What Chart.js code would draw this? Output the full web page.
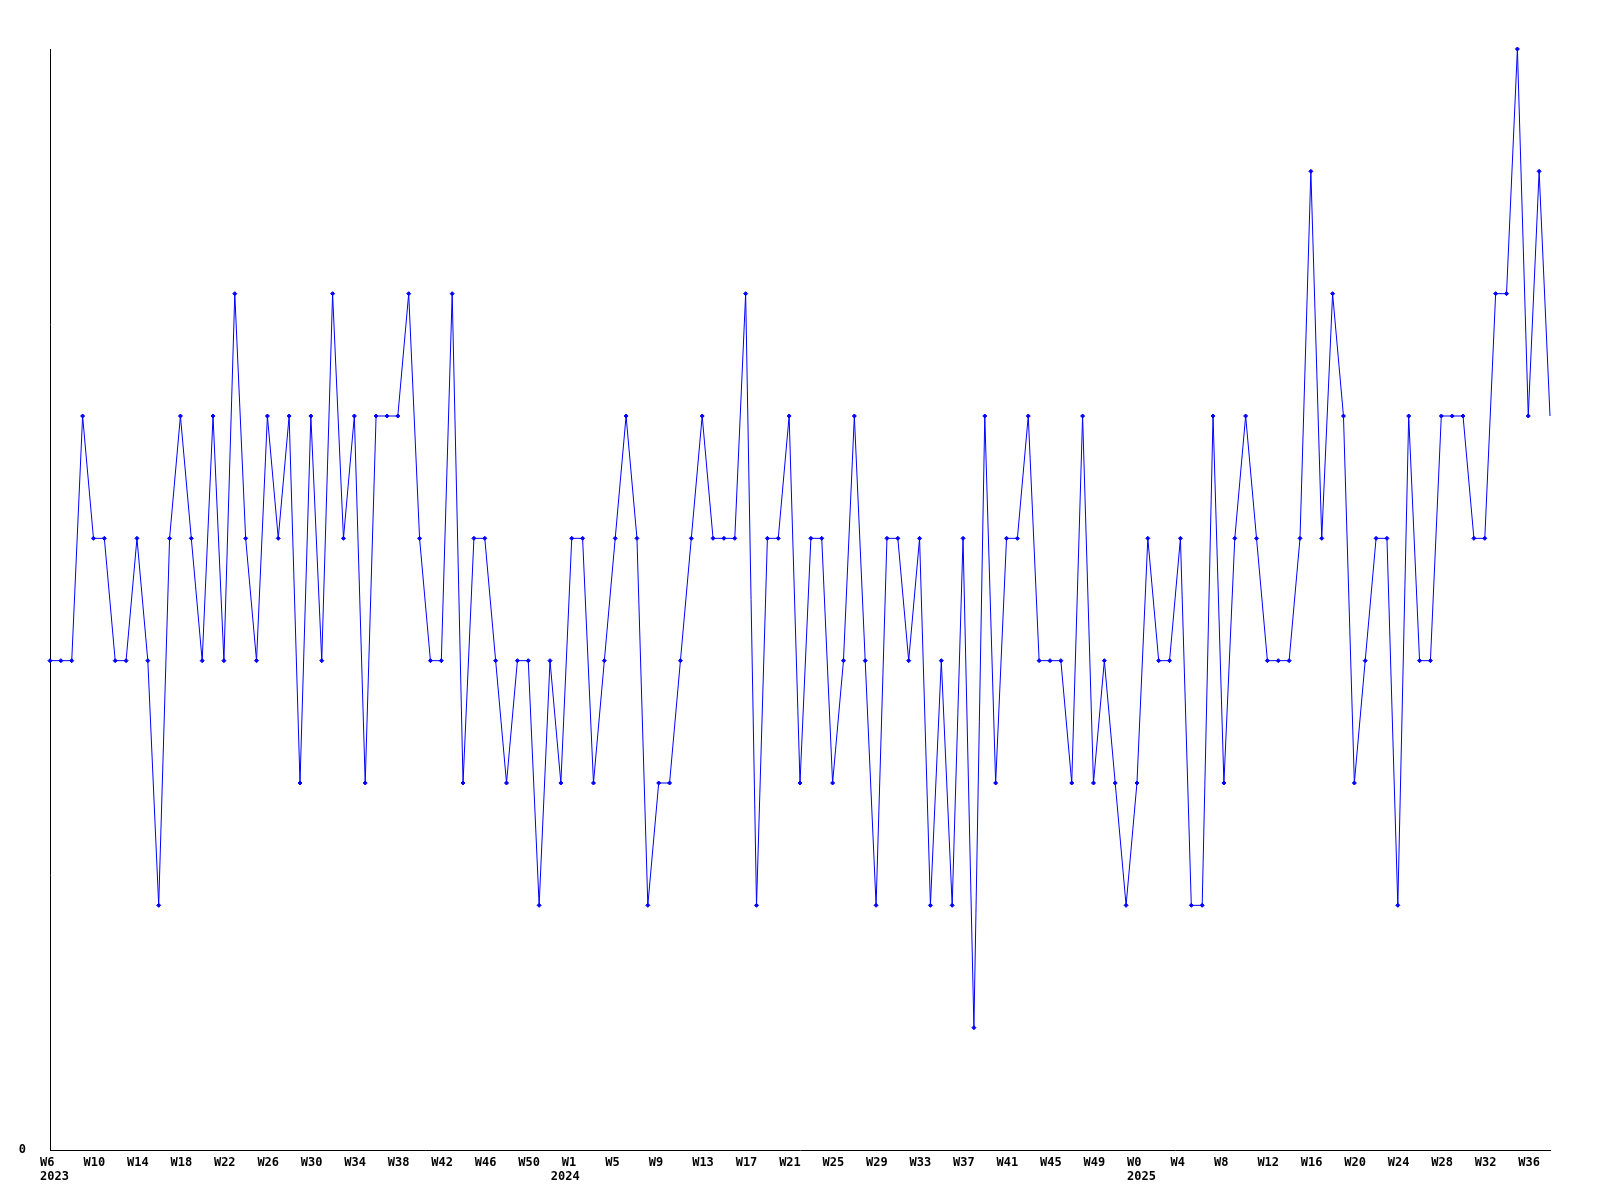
<!DOCTYPE html>
<html>
<head>
<meta charset="UTF-8">
<title>weekly count</title>
<script src="https://cdn.jsdelivr.net/npm/chart.js@4.4.1/dist/chart.umd.min.js"></script>
<style>
  body { margin: 0; background: #fff; }
  canvas { display: block; }
</style>
</head>
<body>
<canvas id="chart1" width="1600" height="1200"></canvas>
<script>
// one value per week, starting W6 2023
var counts = [
  4,4,4,6,5,5,4,4,5,4,
  2,5,6,5,4,6,4,7,5,4,
  6,5,6,3,6,4,7,5,6,3,
  6,6,6,7,5,4,4,7,3,5,
  5,4,3,4,4,2,4,3,5,5,
  3,4,5,6,5,2,3,3,4,5,
  6,5,5,5,7,2,5,5,6,3,
  5,5,3,4,6,4,2,5,5,4,
  5,2,4,2,5,1,6,3,5,5,
  6,4,4,4,3,6,3,4,3,2,
  3,5,4,4,5,2,2,6,3,5,
  6,5,4,4,4,5,8,5,7,6,
  3,4,5,5,2,6,4,4,6,6,
  6,5,5,7,7,9,6,8,6
];

// a week tick every 4 points
var tickStep = 4;
var tickWeeks = [
  'W6','W10','W14','W18','W22','W26','W30','W34','W38','W42','W46','W50',
  'W1','W5','W9','W13','W17','W21','W25','W29','W33','W37','W41','W45','W49',
  'W0','W4','W8','W12','W16','W20','W24','W28','W32','W36'
];
// year labels, second line, at the point where each year starts
var years = ['2023', '2024', '2025'];
var yearAt = [0, 47, 100];

var points = counts.map(function (v, i) { return {x: i, y: v}; });
var last = counts.length - 1;
var monoFont = {family: "'DejaVu Sans Mono', 'Liberation Mono', monospace", size: 12, weight: 'bold', lineHeight: 1.17};

// label text for every tick value on the x axis
var xLabels = {};
tickWeeks.forEach(function (w, k) { xLabels[k * tickStep] = [w]; });
years.forEach(function (y, k) {
  var at = yearAt[k];
  xLabels[at] = [xLabels[at] ? xLabels[at][0] : '', y];
});
var xTicks = Object.keys(xLabels).map(Number).sort(function (a, b) { return a - b; });

var ctx1 = document.getElementById("chart1");
var chart1 = new Chart(ctx1, {
  type: 'line',
  data: {
    datasets: [{
      data: points,
      borderColor: '#0000ff',
      borderWidth: 1,
      backgroundColor: '#0000ff',
      pointStyle: 'rectRot',
      pointRadius: function (c) { return c.dataIndex === last ? 0 : 2; },
      pointBorderWidth: 1,
      pointBorderColor: '#0000ff',
      pointBackgroundColor: '#0000ff',
      tension: 0,
      fill: false,
      clip: false
    }]
  },
  options: {
    responsive: false,
    animation: false,
    layout: { padding: { top: 49, right: 50, left: 0, bottom: 0 } },
    plugins: { legend: { display: false }, tooltip: { enabled: false } },
    scales: {
      x: {
        type: 'linear',
        min: 0,
        max: last,
        grid: { display: false, drawTicks: false },
        border: { display: true, color: '#000', width: 1 },
        afterBuildTicks: function (scale) {
          scale.ticks = xTicks.map(function (v) { return {value: v}; });
        },
        afterFit: function (scale) { scale.height = 50; },
        ticks: {
          autoSkip: false,
          maxRotation: 0,
          align: 'start',
          labelOffset: -10,
          padding: 6,
          color: '#000',
          font: monoFont,
          callback: function (v) {
            var l = xLabels[Math.round(v)];
            return l.length > 1 ? l : l[0];
          }
        }
      },
      y: {
        min: 0,
        max: 9,
        grid: { display: false, drawTicks: false },
        border: { display: true, color: '#000', width: 1 },
        afterBuildTicks: function (scale) { scale.ticks = [{value: 0}]; },
        afterFit: function (scale) { scale.width = 50; },
        ticks: {
          padding: 24,
          color: '#000',
          font: monoFont,
          callback: function (v) { return String(v); }
        }
      }
    }
  }
});
</script>
</body>
</html>
